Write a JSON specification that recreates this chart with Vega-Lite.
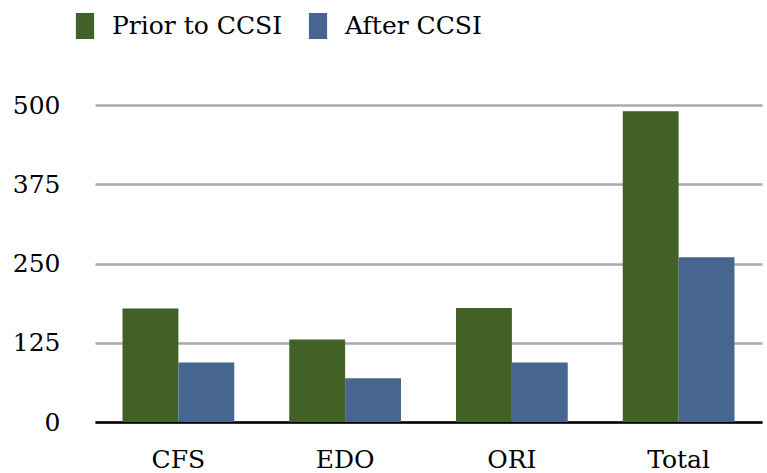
{
  "$schema": "https://vega.github.io/schema/vega-lite/v6.json",
  "width": 667,
  "height": 317,
  "autosize": {"type": "none"},
  "padding": {"left": 95, "top": 105, "right": 5, "bottom": 51},
  "background": "white",
  "data": {
    "values": [
      {"category": "CFS", "period": "Prior to CCSI", "value": 179},
      {"category": "CFS", "period": "After CCSI", "value": 94},
      {"category": "EDO", "period": "Prior to CCSI", "value": 130},
      {"category": "EDO", "period": "After CCSI", "value": 69},
      {"category": "ORI", "period": "Prior to CCSI", "value": 180},
      {"category": "ORI", "period": "After CCSI", "value": 94},
      {"category": "Total", "period": "Prior to CCSI", "value": 490},
      {"category": "Total", "period": "After CCSI", "value": 260}
    ]
  },
  "mark": {"type": "bar"},
  "encoding": {
    "x": {
      "field": "category",
      "type": "nominal",
      "sort": ["CFS", "EDO", "ORI", "Total"],
      "scale": {"paddingInner": 0.33, "paddingOuter": 0.165},
      "axis": {
        "title": null,
        "labelAngle": 0,
        "labelFont": "DejaVu Serif",
        "labelFontSize": 25,
        "labelColor": "black",
        "labelPadding": 25,
        "ticks": false,
        "domainColor": "black",
        "domainWidth": 2.5
      }
    },
    "xOffset": {
      "field": "period",
      "type": "nominal",
      "sort": ["Prior to CCSI", "After CCSI"]
    },
    "y": {
      "field": "value",
      "type": "quantitative",
      "scale": {"domain": [0, 500], "nice": false},
      "axis": {
        "title": null,
        "values": [0, 125, 250, 375, 500],
        "labelFont": "DejaVu Serif",
        "labelFontSize": 25,
        "labelColor": "black",
        "labelPadding": 35,
        "ticks": false,
        "domain": false,
        "gridColor": "#aaaaaa",
        "gridWidth": 2.5
      }
    },
    "color": {
      "field": "period",
      "type": "nominal",
      "sort": ["Prior to CCSI", "After CCSI"],
      "scale": {"domain": ["Prior to CCSI", "After CCSI"], "range": ["#426127", "#46668f"]},
      "legend": {
        "title": null,
        "orient": "none",
        "legendX": -25,
        "legendY": -94,
        "direction": "horizontal",
        "symbolType": "M-0.7,-1H0.7V1H-0.7Z",
        "symbolSize": 676,
        "symbolStrokeWidth": 0,
        "symbolOpacity": 1,
        "labelFont": "DejaVu Serif",
        "labelFontSize": 25,
        "labelLimit": 0,
        "labelColor": "black",
        "labelOffset": 14,
        "columnPadding": 22,
        "padding": 2
      }
    }
  },
  "config": {"view": {"stroke": null}}
}
